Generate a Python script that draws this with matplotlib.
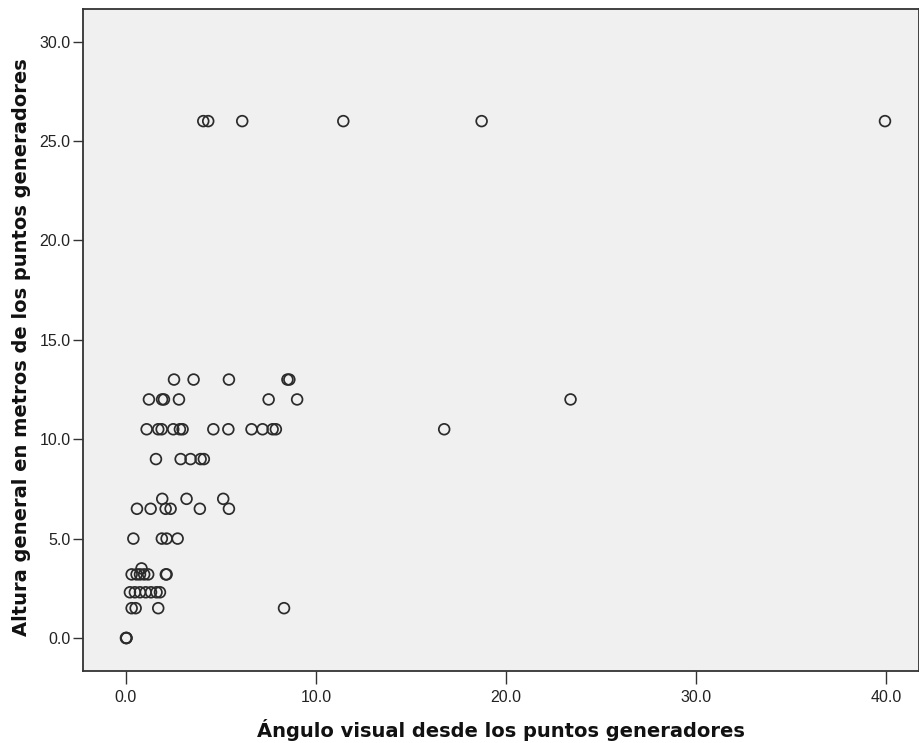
import matplotlib
matplotlib.use("Agg")

import matplotlib.pyplot as plt

# x: visual angle, y: height (m)
angle_26 = [4.07, 4.33, 6.12, 11.44, 18.72, 39.95]
angle_13 = [2.53, 3.56, 5.42, 8.5, 8.6]
angle_12 = [1.21, 1.9, 2.0, 2.79, 7.51, 9.01, 23.4]
angle_105 = [1.09, 1.7, 1.88, 2.49, 2.84, 2.98, 4.6, 5.39, 6.61, 7.19,
             7.72, 7.89, 16.75]
angle_9 = [1.58, 2.88, 3.4, 3.93, 4.1]
angle_7 = [1.91, 3.19, 5.12]
angle_65 = [0.58, 1.3, 2.09, 2.35, 3.89, 5.42]
angle_5 = [0.39, 1.89, 2.14, 2.72]
angle_35 = [0.82]
angle_32 = [0.3, 0.56, 0.74, 0.96, 1.17, 2.1, 2.14]
angle_23 = [0.21, 0.47, 0.74, 1.04, 1.32, 1.61, 1.79]
angle_15 = [0.3, 0.51, 1.7, 8.32]
angle_0 = [0.0, 0.02, 0.03]

rows = [(26.0, angle_26), (13.0, angle_13), (12.0, angle_12), (10.5, angle_105),
        (9.0, angle_9), (7.0, angle_7), (6.5, angle_65), (5.0, angle_5),
        (3.5, angle_35), (3.2, angle_32), (2.3, angle_23), (1.5, angle_15),
        (0.0, angle_0)]

xs, ys = [], []
for h, angles in rows:
    xs += angles
    ys += [h] * len(angles)

xticks = [0, 10, 20, 30, 40]
yticks = [0, 5, 10, 15, 20, 25, 30]

fig = plt.figure(figsize=(9.2, 7.43), dpi=100)
ax = fig.add_axes([83 / 920, 1 - 671 / 743, 836 / 920, 662 / 743])
ax.set_facecolor("#f0f0f0")

ax.scatter(xs, ys, s=60, facecolors="none", edgecolors="#2b2b2b",
           linewidths=1.25, zorder=3)

ax.set_xlim(-2.26, 41.74)
ax.set_ylim(-1.66, 31.64)
ax.set_xticks(xticks)
ax.set_xticklabels([f"{t:.1f}" for t in xticks])
ax.set_yticks(yticks)
ax.set_yticklabels([f"{t:.1f}" for t in yticks])

for sp in ax.spines.values():
    sp.set_color("#333333")
    sp.set_linewidth(1.3)

ax.tick_params(direction="out", width=1, color="#333333",
               labelsize=11.5, labelcolor="#222222")
ax.tick_params(axis="x", length=9, pad=5)
ax.tick_params(axis="y", length=7, pad=2)
for lab in ax.get_xticklabels() + ax.get_yticklabels():
    lab.set_family("Liberation Sans")

lab_font = dict(family="DejaVu Sans", fontsize=14, fontweight="bold",
                color="#111111")
ax.set_xlabel("Ángulo visual desde los puntos generadores", labelpad=10, **lab_font)
ax.set_ylabel("Altura general en metros de los puntos generadores", labelpad=6, **lab_font)
ax.yaxis.label.set_y(0.489)

fig.savefig("out.png", dpi=100)
